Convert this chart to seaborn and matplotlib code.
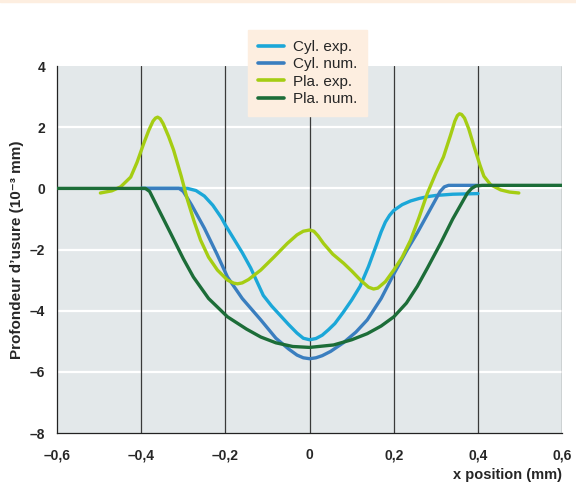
import pandas as pd
import matplotlib
matplotlib.use("Agg")
import matplotlib.pyplot as plt
import matplotlib.patches as mpatches
import seaborn as sns

cyl_exp_x = [-0.40, -0.30, -0.29, -0.27, -0.25, -0.23, -0.21, -0.20, -0.18, -0.16, -0.14,
             -0.12, -0.11, -0.09, -0.07, -0.05, -0.03, -0.015, 0.00, 0.015, 0.03, 0.045,
             0.06, 0.08, 0.10, 0.12, 0.14, 0.16, 0.17, 0.18, 0.19, 0.20, 0.22, 0.24, 0.26,
             0.28, 0.30, 0.34, 0.40]
cyl_exp_y = [0.0, 0.0, 0.0, -0.07, -0.25, -0.55, -0.95, -1.2, -1.65, -2.1, -2.6,
             -3.2, -3.5, -3.85, -4.15, -4.45, -4.73, -4.9, -4.95, -4.91, -4.8, -4.62,
             -4.42, -4.05, -3.65, -3.2, -2.55, -1.8, -1.42, -1.1, -0.88, -0.72, -0.53, -0.41,
             -0.33, -0.27, -0.23, -0.19, -0.17]

cyl_num_x = [-0.40, -0.31, -0.30, -0.28, -0.25, -0.22, -0.195, -0.16, -0.116, -0.08,
             -0.05, -0.03, -0.015, 0.00, 0.015, 0.03, 0.05, 0.08, 0.11, 0.137, 0.17,
             0.20, 0.23, 0.256, 0.28, 0.30, 0.31, 0.32, 0.33, 0.40]
cyl_num_y = [0.0, 0.0, -0.1, -0.55, -1.3, -2.15, -2.9, -3.6, -4.3, -4.9,
             -5.25, -5.45, -5.54, -5.57, -5.54, -5.47, -5.33, -5.05, -4.7, -4.3, -3.6,
             -2.8, -2.05, -1.45, -0.85, -0.35, -0.1, 0.05, 0.1, 0.1]

pla_exp_x = [-0.497, -0.47, -0.449, -0.425, -0.41, -0.394, -0.382, -0.372, -0.366, -0.361,
             -0.355, -0.348, -0.335, -0.323, -0.305, -0.29, -0.275, -0.259, -0.24, -0.219,
             -0.195, -0.18, -0.171, -0.16, -0.145, -0.116, -0.085, -0.053, -0.03, -0.015,
             0.0, 0.01, 0.02, 0.033, 0.055, 0.081, 0.10, 0.121, 0.14, 0.152, 0.162,
             0.18, 0.20, 0.22, 0.24, 0.26, 0.28, 0.30, 0.318, 0.335, 0.345, 0.351, 0.356,
             0.361, 0.368, 0.378, 0.39, 0.405, 0.414, 0.43, 0.454, 0.475, 0.497]
pla_exp_y = [-0.15, -0.08, 0.05, 0.37, 0.85, 1.47, 1.9, 2.2, 2.3, 2.33,
             2.28, 2.12, 1.7, 1.25, 0.4, -0.38, -1.05, -1.69, -2.25, -2.67,
             -3.0, -3.1, -3.12, -3.09, -2.98, -2.67, -2.25, -1.8, -1.52, -1.4,
             -1.36, -1.4, -1.55, -1.8, -2.15, -2.45, -2.7, -3.0, -3.23, -3.29, -3.26,
             -3.05, -2.67, -2.25, -1.69, -0.95, -0.15, 0.5, 1.03, 1.75, 2.2, 2.38, 2.44,
             2.42, 2.3, 1.95, 1.4, 0.75, 0.4, 0.12, -0.05, -0.12, -0.15]

pla_num_x = [-0.60, -0.39, -0.38, -0.36, -0.33, -0.30, -0.276, -0.24, -0.195, -0.15,
             -0.116, -0.08, -0.04, 0.0, 0.057, 0.10, 0.137, 0.17, 0.20, 0.23, 0.256,
             0.28, 0.311, 0.34, 0.375, 0.385, 0.395, 0.41, 0.60]
pla_num_y = [0.0, 0.0, -0.1, -0.65, -1.47, -2.3, -2.9, -3.6, -4.2, -4.6,
             -4.86, -5.05, -5.17, -5.2, -5.12, -4.95, -4.75, -4.5, -4.2, -3.75, -3.2,
             -2.6, -1.8, -1.0, -0.15, 0.0, 0.08, 0.1, 0.1]

series = ["Cyl. exp.", "Cyl. num.", "Pla. exp.", "Pla. num."]
colors = ["#1ba7d8", "#3a7ebf", "#a5cd13", "#1c6d38"]

x_ticks = [-0.6, -0.4, -0.2, 0, 0.2, 0.4, 0.6]
x_labels = ["\u20130,6", "\u20130,4", "\u20130,2", "0", "0,2", "0,4", "0,6"]
y_ticks = [4, 2, 0, -2, -4, -6, -8]
y_labels = ["4", "2", "0", "\u20132", "\u20134", "\u20136", "\u20138"]

frames = []
for name, xs, ys in zip(series,
                        [cyl_exp_x, cyl_num_x, pla_exp_x, pla_num_x],
                        [cyl_exp_y, cyl_num_y, pla_exp_y, pla_num_y]):
    frames.append(pd.DataFrame({"x": xs, "y": ys, "serie": name}))
df = pd.concat(frames, ignore_index=True)

sns.set_style("white")
plt.rcParams["font.family"] = ["Liberation Sans", "DejaVu Sans"]

fig = plt.figure(figsize=(5.76, 4.86), dpi=100)
ax = fig.add_axes([0.099, 0.109, 0.877, 0.755])
ax.set_facecolor("#e3e8ea")

# peach strip at top of the page
fig.patches.append(mpatches.Rectangle((0, 0.995), 1, 0.005, transform=fig.transFigure,
                                      color="#fdeee0", zorder=0))

for yv in [-6, -4, -2, 0, 2]:
    ax.axhline(yv, color="white", lw=1.6, zorder=1)
for xv in [-0.4, -0.2, 0, 0.2, 0.4, 0.6]:
    ax.axvline(xv, color="#3a3a3a", lw=0.9, zorder=1)

sns.lineplot(data=df, x="x", y="y", hue="serie", hue_order=series,
             palette=colors, sort=False, estimator=None, lw=2.4, ax=ax,
             legend=False, zorder=3)
for line in ax.get_lines():
    line.set_solid_joinstyle("round")
    line.set_solid_capstyle("round")

ax.set_xlim(-0.6, 0.6)
ax.set_ylim(-8, 4)
ax.set_xticks(x_ticks)
ax.set_xticklabels(x_labels, fontsize=10, fontweight="bold")
ax.set_yticks(y_ticks)
ax.set_yticklabels(y_labels, fontsize=10, fontweight="bold")
ax.tick_params(axis="both", length=5, width=0.9, color="#222222", direction="out")
ax.tick_params(axis="x", pad=6)

for s in ["top", "right"]:
    ax.spines[s].set_visible(False)
ax.spines["left"].set_color("#222222")
ax.spines["bottom"].set_color("#222222")
ax.spines["left"].set_linewidth(0.9)
ax.spines["bottom"].set_linewidth(0.9)

ax.set_xlabel("x position (mm)", fontsize=10.5, fontweight="bold", loc="right")
ax.set_ylabel("Profondeur d\u2019usure (10\u207b\u00b3 mm)", fontsize=11,
              fontweight="bold", labelpad=4)

handles = [plt.Line2D([0], [0], color=c, lw=2.6) for c in colors]
leg = fig.legend(handles, series, loc="upper left", bbox_to_anchor=(0.43, 0.938),
                 frameon=True, fancybox=False, fontsize=11, handlelength=1.7,
                 handletextpad=0.6, labelspacing=0.22, borderpad=0.65,
                 borderaxespad=0)
leg.get_frame().set_facecolor("#fdeee0")
leg.get_frame().set_edgecolor("#fdeee0")
leg.get_frame().set_alpha(1)

fig.savefig("out.png", dpi=100)
